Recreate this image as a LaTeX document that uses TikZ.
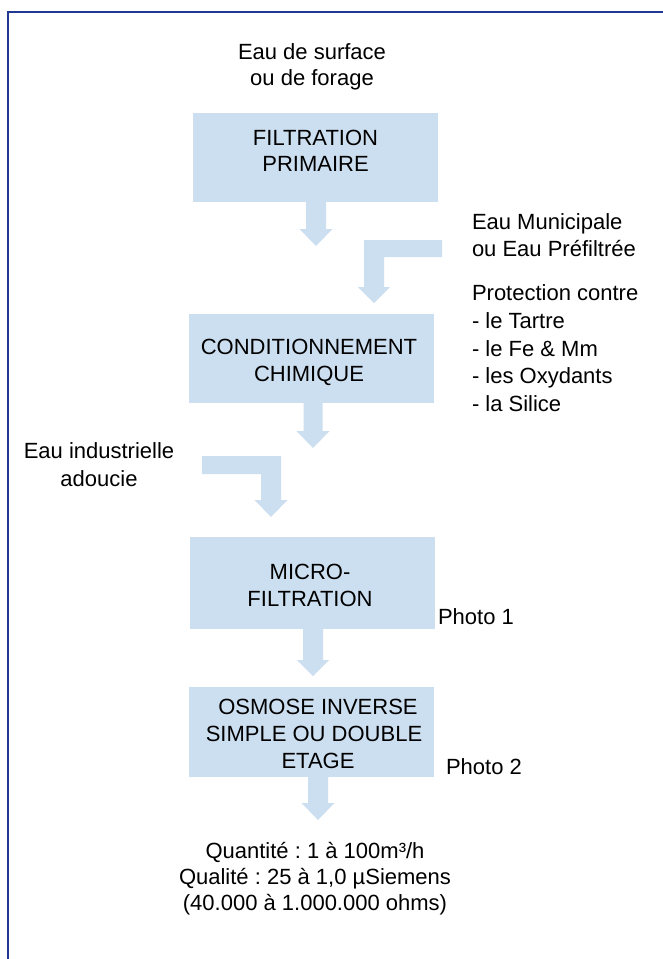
\documentclass[tikz,border=0pt]{standalone}
\usepackage{fontspec}
\setmainfont{Liberation Sans}
\frenchspacing
\definecolor{boxblue}{RGB}{204,223,240}
\definecolor{framblue}{RGB}{32,56,145}
\begin{document}
\begin{tikzpicture}[x=1pt,y=-1pt,
  every node/.style={inner sep=0pt,outer sep=0pt,font=\fontsize{22}{27}\selectfont},
  stage/.style={fill=boxblue,draw=none,rectangle},
  txt/.style={anchor=base},
  txtw/.style={anchor=base west},
  blk/.style={fill=boxblue,draw=none}]
\useasboundingbox (0,0) rectangle (662,959);
\fill[white] (0,0) rectangle (662,959);
% frame
\draw[framblue,line width=2.5pt] (8,960) -- (8,12) -- (663,12);

% boxes
\node[stage,minimum width=245pt,minimum height=89pt] (f1) at (315.5,157.5) {};
\node[stage,minimum width=245pt,minimum height=89pt] (c1) at (311.5,358.5) {};
\node[stage,minimum width=245pt,minimum height=92pt] (m1) at (312.5,583) {};
\node[stage,minimum width=245pt,minimum height=90pt] (o1) at (311.5,732) {};

% box texts
\node[txt] (f1a) at (315.5,145) {FILTRATION};
\node[txt] (f1b) at (315.5,171) {PRIMAIRE};
\node[txt] (c1a) at (309,354) {CONDITIONNEMENT};
\node[txt] (c1b) at (309,381) {CHIMIQUE};
\node[txt] (m1a) at (310,579) {MICRO-};
\node[txt] (m1b) at (310,606) {FILTRATION};
\node[txt] (o1a) at (318,714) {OSMOSE INVERSE};
\node[txt] (o1b) at (314,741) {SIMPLE OU DOUBLE};
\node[txt] (o1c) at (318,768) {ETAGE};

% free texts
\node[txt] (s1) at (312,59) {Eau de surface};
\node[txt] (s2) at (312,85) {ou de forage};
\node[txtw] (r1) at (472,229) {Eau Municipale};
\node[txtw] (r2) at (472,256) {ou Eau Préfiltrée};
\node[txtw] (p0) at (472,300) {Protection contre};
\node[txtw] (p1) at (472,328) {- le Tartre};
\node[txtw] (p2) at (472,356) {- le Fe \& Mm};
\node[txtw] (p3) at (472,383) {- les Oxydants};
\node[txtw] (p4) at (472,411) {- la Silice};
\node[txt] (i1) at (99,458) {Eau industrielle};
\node[txt] (i2) at (99,486) {adoucie};
\node[txtw] (ph1) at (438,624) {Photo 1};
\node[txtw] (ph2) at (446,774) {Photo 2};
\node[txt] (q1) at (315,858) {Quantité : 1 à 100m³/h};
\node[txt] (q2) at (315,884) {Qualité : 25 à 1,0 µSiemens};
\node[txt] (q3) at (315,910) {(40.000 à 1.000.000 ohms)};

% arrow f1 -> (down)
\coordinate (a1) at (316,202);
\fill[blk] (a1) ++(-10,0) -- ++(0,27) -- ++(-6.5,0) -- (316,246) -- (332.5,229) -- (326,229) -- (326,202) -- cycle;
% L arrow from municipal water into c1
\coordinate (a2) at (442,240);
\fill[blk] (a2) -- (442,257) -- (384,257) -- (384,287) -- (390,287) -- (374,303) -- (358,287) -- (364,287) -- (364,240) -- cycle;
% arrow c1 -> down
\coordinate (a3) at (313,403);
\fill[blk] (a3) ++(-9.5,0) -- (303.5,431) -- (296.5,431) -- (313,448) -- (329.5,431) -- (322.5,431) -- (322.5,403) -- cycle;
% L arrow from industrial water into m1
\coordinate (a4) at (202,456);
\fill[blk] (a4) -- (281,456) -- (281,500) -- (287.5,500) -- (271,517) -- (254.5,500) -- (261,500) -- (261,474) -- (202,474) -- cycle;
% arrow m1 -> o1
\coordinate (a5) at (313,629);
\fill[blk] (a5) ++(-10,0) -- (303,660) -- (297,660) -- (313,676) -- (329,660) -- (323,660) -- (323,629) -- cycle;
% arrow o1 -> outlet
\coordinate (a6) at (318,777);
\fill[blk] (a6) ++(-10,0) -- (308,803) -- (301.5,803) -- (318,820) -- (334.5,803) -- (328,803) -- (328,777) -- cycle;
\end{tikzpicture}
\end{document}
